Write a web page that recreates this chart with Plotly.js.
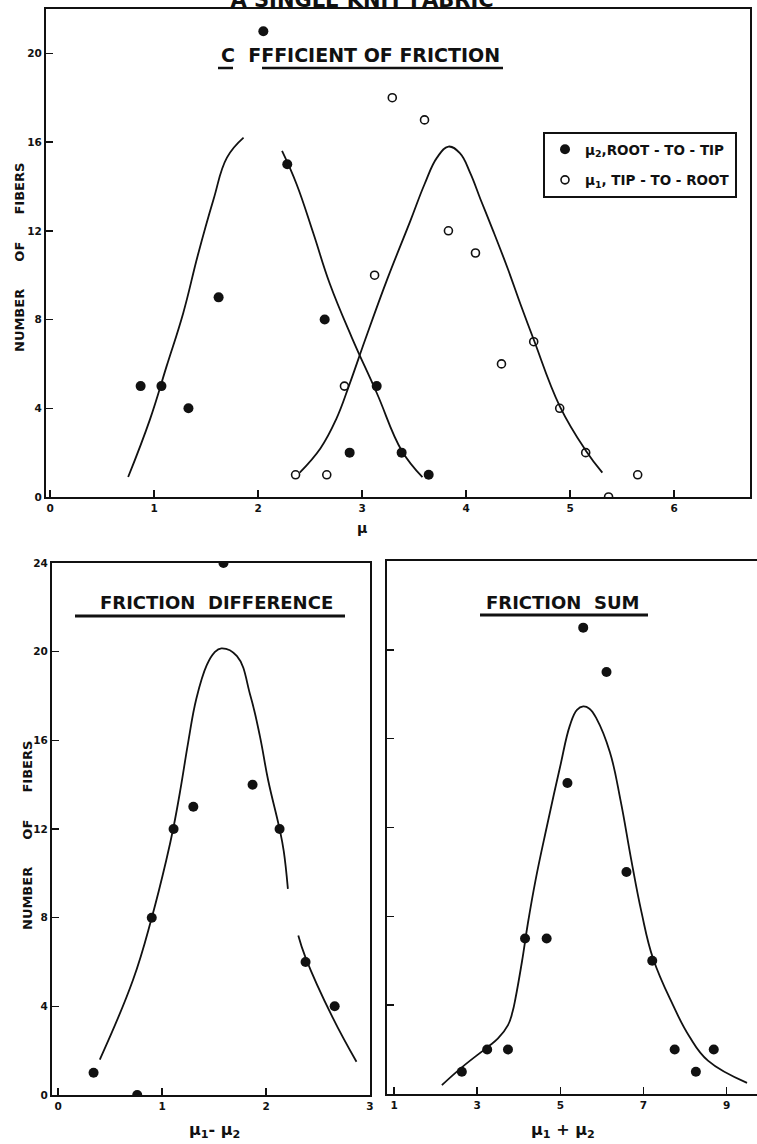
<!DOCTYPE html>
<html>
<head>
<meta charset="utf-8">
<script src="https://cdn.plot.ly/plotly-3.0.1.min.js"></script>
<style>html,body{margin:0;padding:0;background:#fff;}#chart{width:757px;height:1144px;}</style>
</head>
<body>
<div id="chart"></div>
<script>
// ---------- DATA ----------
// Panel 1: coefficient of friction
const rootToTipMu   = [0.87, 1.07, 1.33, 1.62, 2.05, 2.28, 2.64, 2.88, 3.14, 3.38, 3.64];
const rootToTipN    = [5, 5, 4, 9, 21, 15, 8, 2, 5, 2, 1];
const tipToRootMu   = [2.36, 2.66, 2.83, 3.12, 3.29, 3.60, 3.83, 4.09, 4.34, 4.65, 4.90, 5.15, 5.37, 5.65];
const tipToRootN    = [1, 1, 5, 10, 18, 17, 12, 11, 6, 7, 4, 2, 0, 1];
const rootFitMu     = [0.75, 0.96, 1.12, 1.28, 1.42, 1.57, 1.70, 1.86, null, 2.23, 2.37, 2.53, 2.69, 2.90, 3.14, 3.38, 3.58];
const rootFitN      = [0.9, 3.5, 5.9, 8.3, 10.9, 13.4, 15.3, 16.2, null, 15.6, 14.1, 11.9, 9.6, 7.2, 4.7, 2.1, 0.9];
const tipFitMu      = [2.40, 2.60, 2.75, 2.88, 3.03, 3.24, 3.46, 3.60, 3.72, 3.83, 3.94, 4.04, 4.14, 4.26, 4.40, 4.53, 4.65, 4.90, 5.15, 5.31];
const tipFitN       = [1.1, 2.2, 3.5, 5.1, 7.1, 9.8, 12.4, 14.1, 15.3, 15.8, 15.5, 14.6, 13.4, 12.0, 10.3, 8.6, 7.1, 4.1, 2.1, 1.1];

// Panel 2: friction difference
const diffMu        = [0.34, 0.76, 0.90, 1.11, 1.30, 1.59, 1.87, 2.13, 2.38, 2.66];
const diffN         = [1, 0, 8, 12, 13, 24, 14, 12, 6, 4];
const diffFitMu     = [0.40, 0.72, 0.90, 1.04, 1.11, 1.18, 1.25, 1.33, 1.43, 1.50, 1.57, 1.72, 1.85, 1.94, 2.02, 2.13, 2.17, 2.21, null, 2.31, 2.38, 2.64, 2.87];
const diffFitN      = [1.6, 5.2, 8.0, 10.6, 12.1, 13.9, 15.9, 17.9, 19.4, 19.95, 20.15, 19.8, 18.0, 16.2, 14.2, 12.0, 11.0, 9.3, null, 7.2, 6.2, 3.5, 1.5];

// Panel 3: friction sum
const sumMu         = [2.63, 3.24, 3.74, 4.15, 4.67, 5.17, 5.55, 6.11, 6.59, 7.21, 7.75, 8.26, 8.69];
const sumN          = [1, 2, 2, 7, 7, 14, 21, 19, 10, 6, 2, 1, 2];
const sumFitMu      = [2.15, 2.63, 3.24, 3.50, 3.74, 3.85, 3.92, 4.08, 4.22, 4.40, 4.67, 4.99, 5.23, 5.40, 5.55, 5.70, 5.87, 6.19, 6.45, 6.70, 6.95, 7.23, 7.71, 8.10, 8.55, 9.49];
const sumFitN       = [0.4, 1.2, 2.1, 2.5, 3.1, 3.7, 4.3, 6.0, 7.7, 9.6, 12.0, 14.7, 16.6, 17.3, 17.45, 17.35, 16.9, 15.4, 13.2, 10.6, 8.2, 6.1, 4.0, 2.6, 1.5, 0.5];

// Tick labels
const coefTicks     = [0, 1, 2, 3, 4, 5, 6];
const coefCountTicks= [0, 4, 8, 12, 16, 20];
const diffTicks     = [0, 1, 2, 3];
const sumTicks      = [1, 3, 5, 7, 9];
const countTicks    = [0, 4, 8, 12, 16, 20, 24];

// Text
const NB = '\u00A0';
const mainTitle     = 'A SINGLE KNIT FABRIC';
const coefTitle     = 'C' + NB + NB + 'FFFICIENT OF FRICTION';
const diffTitle     = 'FRICTION' + NB + NB + 'DIFFERENCE';
const sumTitle      = 'FRICTION' + NB + NB + 'SUM';
const rootName      = 'μ<sub>2</sub>,ROOT - TO - TIP';
const tipName       = 'μ<sub>1</sub>, TIP - TO - ROOT';
const yLabel        = 'NUMBER' + NB.repeat(6) + 'OF' + NB.repeat(6) + 'FIBERS';
const coefXLabel    = 'μ';
const diffXLabel    = 'μ<sub>1</sub>- μ<sub>2</sub>';
const sumXLabel     = 'μ<sub>1</sub> + μ<sub>2</sub>';

// ---------- LAYOUT HELPERS ----------
const W = 757, H = 1144;
const fx = p => p / W;
const fy = p => 1 - p / H;
const FONT = 'DejaVu Sans, Liberation Sans, sans-serif';
const INK = '#111';
const bold = size => ({family: FONT, size: size, weight: 'bold', color: INK});

const dotMarker  = {symbol: 'circle', size: 10, color: INK};
const openMarker = {symbol: 'circle-open', size: 8, color: INK, line: {width: 1.6, color: INK}};
const fitLine    = {color: INK, width: 1.8, shape: 'spline', smoothing: 1.2};

const traces = [
  {x: rootToTipMu, y: rootToTipN, type: 'scatter', mode: 'markers', name: rootName,
   marker: dotMarker, xaxis: 'x', yaxis: 'y', legendgroup: 'a'},
  {x: tipToRootMu, y: tipToRootN, type: 'scatter', mode: 'markers', name: tipName,
   marker: openMarker, xaxis: 'x', yaxis: 'y', legendgroup: 'b'},
  {x: rootFitMu, y: rootFitN, type: 'scatter', mode: 'lines', line: fitLine,
   connectgaps: false, showlegend: false, xaxis: 'x', yaxis: 'y', hoverinfo: 'skip'},
  {x: tipFitMu, y: tipFitN, type: 'scatter', mode: 'lines', line: fitLine,
   showlegend: false, xaxis: 'x', yaxis: 'y', hoverinfo: 'skip'},

  {x: diffMu, y: diffN, type: 'scatter', mode: 'markers', marker: dotMarker,
   showlegend: false, xaxis: 'x2', yaxis: 'y2'},
  {x: diffFitMu, y: diffFitN, type: 'scatter', mode: 'lines', line: fitLine,
   connectgaps: false, showlegend: false, xaxis: 'x2', yaxis: 'y2', hoverinfo: 'skip'},

  {x: sumMu, y: sumN, type: 'scatter', mode: 'markers', marker: dotMarker,
   showlegend: false, xaxis: 'x3', yaxis: 'y3'},
  {x: sumFitMu, y: sumFitN, type: 'scatter', mode: 'lines', line: fitLine,
   showlegend: false, xaxis: 'x3', yaxis: 'y3', hoverinfo: 'skip'}
];

const baseAxis = {
  showline: true, linecolor: INK, linewidth: 2, showgrid: false, zeroline: false,
  ticks: 'inside', ticklen: 7, tickwidth: 1.5, tickcolor: INK, tickfont: bold(10.5),
  fixedrange: true
};

const note = (text, x, y, size, extra) => Object.assign({
  text: text, xref: 'paper', yref: 'paper', x: fx(x), y: fy(y),
  xanchor: 'center', yanchor: 'middle', showarrow: false, font: bold(size)
}, extra || {});

const uline = (x0, x1, y, w) => ({type: 'line', xref: 'paper', yref: 'paper',
  x0: fx(x0), x1: fx(x1), y0: fy(y), y1: fy(y), line: {color: INK, width: w}});

const layout = {
  width: W, height: H,
  margin: {l: 0, r: 0, t: 0, b: 0},
  paper_bgcolor: '#fff', plot_bgcolor: 'rgba(0,0,0,0)',
  font: {family: FONT, color: INK},
  title: {text: mainTitle, x: fx(362), xanchor: 'center', y: 1, yanchor: 'middle',
          yref: 'container', font: bold(21)},
  showlegend: true,
  legend: {x: fx(543), y: fy(132), xanchor: 'left', yanchor: 'top',
           bgcolor: '#fff', bordercolor: INK, borderwidth: 2,
           font: bold(13.5),
           traceorder: 'grouped', tracegroupgap: 10, itemclick: false, itemdoubleclick: false},

  xaxis: Object.assign({}, baseAxis, {domain: [fx(46), fx(750)], anchor: 'y',
          range: [-0.04, 6.73], tickvals: coefTicks, mirror: true}),
  yaxis: Object.assign({}, baseAxis, {domain: [fy(497), fy(9)], anchor: 'x',
          range: [0, 22], tickvals: coefCountTicks, mirror: true}),

  xaxis2: Object.assign({}, baseAxis, {domain: [fx(52), fx(370)], anchor: 'y2',
          range: [-0.06, 3.0], tickvals: diffTicks, mirror: true}),
  yaxis2: Object.assign({}, baseAxis, {domain: [fy(1095), fy(563)], anchor: 'x2',
          range: [0, 24], tickvals: countTicks, mirror: true}),

  xaxis3: Object.assign({}, baseAxis, {domain: [fx(387), 1], anchor: 'y3',
          range: [0.83, 9.73], tickvals: sumTicks, mirror: true}),
  yaxis3: Object.assign({}, baseAxis, {domain: [fy(1094), fy(561)], anchor: 'x3',
          range: [0, 24], tickvals: countTicks, showticklabels: false, mirror: false}),

  annotations: [
    note(coefTitle, 360, 55, 19),
    note(diffTitle, 216, 602, 18),
    note(sumTitle, 562, 602, 18),
    note(coefXLabel, 362, 528, 14),
    note(diffXLabel, 214, 1130, 16),
    note(sumXLabel, 563, 1130, 16),
    note(yLabel, 19, 258, 13, {textangle: -90}),
    note(yLabel, 27, 836, 13, {textangle: -90})
  ],

  shapes: [
    uline(218, 233, 68, 2.5),
    uline(262, 503, 68, 2.5),
    uline(75, 345, 616, 3),
    uline(480, 648, 615, 3)
  ]
};

Plotly.newPlot('chart', traces, layout, {displayModeBar: false, staticPlot: true});
</script>
</body>
</html>
